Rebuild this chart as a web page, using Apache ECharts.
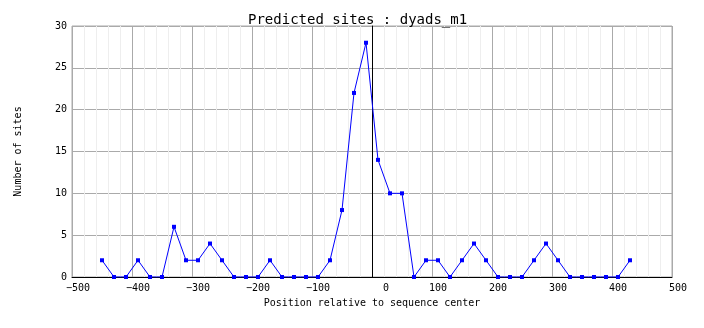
<!DOCTYPE html>
<html>
<head>
<meta charset="utf-8">
<script src="https://cdn.jsdelivr.net/npm/echarts@6/dist/echarts.min.js"></script>
<style>html,body{margin:0;padding:0;background:#fff;}#c{width:704px;height:328px;}</style>
</head>
<body>
<div id="c"></div>
<script>
var titleText = 'Predicted sites : dyads_m1';
var xName = 'Position relative to sequence center';
var yName = 'Number of sites';
var positions = [-460,-440,-420,-400,-380,-360,-340,-320,-300,-280,-260,-240,-220,-200,-180,-160,-140,-120,-100,-80,-60,-40,-20,0,20,40,60,80,100,120,140,160,180,200,220,240,260,280,300,320,340,360,380,400,420];
var counts = [2,0,0,2,0,0,6,2,2,4,2,0,0,0,2,0,0,0,0,2,8,22,28,14,10,10,0,2,2,0,2,4,2,0,0,0,2,4,2,0,0,0,0,0,2];
var xTicks = [-500,-400,-300,-200,-100,0,100,200,300,400,500];
var yTicks = [0,5,10,15,20,25,30];

var font = 'DejaVu Sans Mono';
var chart = echarts.init(document.getElementById('c'), null, {renderer: 'canvas'});
var seriesData = positions.map(function (p, i) { return [p, counts[i]]; });

chart.setOption({
  backgroundColor: '#ffffff',
  animation: false,
  title: {
    text: titleText,
    left: 243, top: 8,
    textStyle: {fontFamily: font, fontSize: 14, fontWeight: 'normal', color: '#000'}
  },
  grid: [
    {left: 72, top: 26, width: 600, height: 251, show: true, borderColor: '#aaaaaa', borderWidth: 1, backgroundColor: '#fff'},
    {left: 78, top: 26, width: 600, height: 251, show: false}
  ],
  xAxis: [
    {
      gridIndex: 0, type: 'value', min: -500, max: 500, interval: 100,
      axisLine: {show: true, lineStyle: {color: '#000', width: 1}},
      axisTick: {show: false},
      axisLabel: {show: false},
      splitLine: {show: true, lineStyle: {color: '#aaaaaa', width: 1}},
      minorTick: {show: false, splitNumber: 5},
      minorSplitLine: {show: true, lineStyle: {color: '#eeeeee', width: 1}},
      name: xName, nameLocation: 'middle', nameGap: 21,
      nameTextStyle: {fontFamily: font, fontSize: 10, color: '#000'}
    },
    {
      gridIndex: 1, type: 'value', min: -500, max: 500, interval: 100,
      axisLine: {show: false}, axisTick: {show: false},
      splitLine: {show: false},
      axisLabel: {
        show: true, margin: 6, fontFamily: font, fontSize: 10, color: '#000',
        customValues: xTicks,
        formatter: function (v) {
          if (v === 0) { return '{z|0}'; }
          return String(v).replace('-', '\u2212');
        },
        rich: {z: {fontFamily: font, fontSize: 10, color: '#000', padding: [0, 0, 0, 16]}}
      }
    }
  ],
  yAxis: [
    {
      gridIndex: 0, type: 'value', min: 0, max: 30, interval: 5,
      axisLine: {show: true, lineStyle: {color: '#000', width: 1}},
      axisTick: {show: false},
      axisLabel: {show: true, margin: 5, fontFamily: font, fontSize: 10, color: '#000',
        customValues: yTicks},
      splitLine: {show: true, lineStyle: {color: '#aaaaaa', width: 1}},
      name: yName, nameLocation: 'middle', nameGap: 49, nameRotate: 90,
      nameTextStyle: {fontFamily: font, fontSize: 10, color: '#000'}
    },
    {
      gridIndex: 1, type: 'value', min: 0, max: 30, show: false
    }
  ],
  series: [
    {
      type: 'line', xAxisIndex: 0, yAxisIndex: 0, data: [], silent: true,
      markLine: {
        silent: true, symbol: ['none', 'none'], label: {show: false},
        lineStyle: {color: '#000', width: 1, type: 'solid'},
        data: [{xAxis: 0}]
      }
    },
    {
      type: 'line', xAxisIndex: 1, yAxisIndex: 1, data: seriesData,
      symbol: 'rect', symbolSize: 4, showSymbol: true,
      itemStyle: {color: '#0000ff'},
      lineStyle: {color: '#0000ff', width: 1},
      z: 5
    }
  ]
});
</script>
</body>
</html>
